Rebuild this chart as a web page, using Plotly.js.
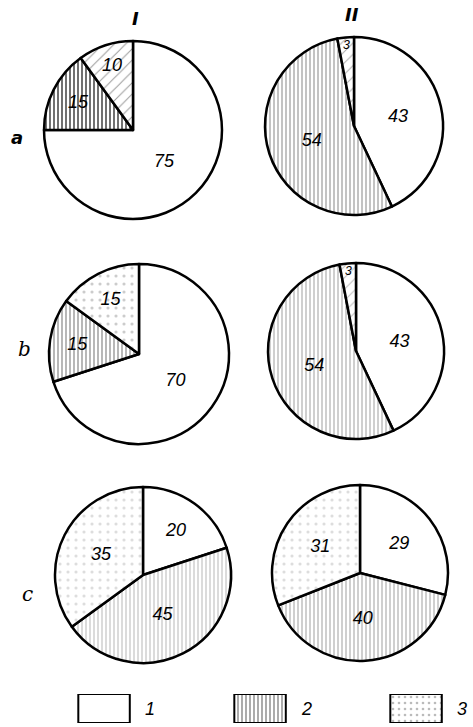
<!DOCTYPE html>
<html>
<head>
<meta charset="utf-8">
<script src="https://cdn.plot.ly/plotly-3.0.1.min.js"></script>
<style>html,body{margin:0;padding:0;background:#fff;}#chart{width:473px;height:727px;}</style>
</head>
<body>
<div id="chart"></div>
<script>
// ---- data ----
const categories = ['1', '2', '3'];
const colLabels = ['I', 'II'];
const rowLabels = ['a', 'b', 'c'];
const valuesA_I = [75, 15, 10];
const valuesA_II = [43, 54, 3];
const valuesB_I = [70, 15, 15];
const valuesB_II = [43, 54, 3];
const valuesC_I = [20, 45, 35];
const valuesC_II = [29, 40, 31];
const legendValues = [1, 1, 1];

// ---- layout helpers (pixel -> paper) ----
const W = 473, H = 727;
function dom(cx, cy, r) {
  return { x: [(cx - r) / W, (cx + r) / W], y: [1 - (cy + r) / H, 1 - (cy - r) / H] };
}
const patShapes = ['', '|', '/'];
function pie(values, d, p2color, p3color, p3shape) {
  return {
    type: 'pie',
    labels: categories,
    values: values,
    text: values.map(String),
    textinfo: 'text',
    textposition: 'inside',
    insidetextorientation: 'horizontal',
    textfont: { family: 'Liberation Sans, Arial, sans-serif', size: 18, style: 'italic', color: '#000' },
    sort: false,
    direction: 'clockwise',
    rotation: 0,
    domain: d,
    showlegend: false,
    hoverinfo: 'none',
    marker: {
      colors: ['#ffffff', '#ffffff', '#ffffff'],
      line: { color: '#000', width: 2.5 },
      pattern: {
        shape: ['', '|', p3shape || '/'],
        fgcolor: ['#000', p2color, p3color],
        bgcolor: ['#fff', '#fff', '#fff'],
        size: [6, 4, 8],
        solidity: [0.1, 0.35, 0.12]
      }
    }
  };
}

const traces = [
  pie(valuesA_I, dom(133, 130, 89), '#333', '#999'),
  pie(valuesA_II, dom(354, 126, 89), '#aaa', '#aaa'),
  pie(valuesB_I, dom(139, 354, 90), '#999', '#ccc', '.'),
  pie(valuesB_II, dom(356, 351, 88), '#bbb', '#bbb'),
  pie(valuesC_I, dom(143, 575, 88), '#ccc', '#ddd', '.'),
  pie(valuesC_II, dom(360, 573, 88), '#bbb', '#ddd', '.'),
  {
    type: 'bar',
    x: categories,
    y: legendValues,
    width: 0.33,
    xaxis: 'x',
    yaxis: 'y',
    showlegend: false,
    hoverinfo: 'none',
    marker: {
      color: '#fff',
      line: { color: '#000', width: 2 },
      pattern: {
        shape: ['', '|', '.'],
        fgcolor: ['#000', '#888', '#bbb'],
        bgcolor: '#fff',
        size: [6, 4, 6],
        solidity: [0.1, 0.35, 0.15]
      }
    }
  }
];

const hdrFont = { family: 'DejaVu Sans', size: 18, color: '#000', weight: 'bold', style: 'italic' };
const rowFont = { family: 'DejaVu Serif, serif', size: 20, color: '#000', style: 'italic' };
function ann(text, px, py, font) {
  return { text: text, x: px / W, y: 1 - py / H, xref: 'paper', yref: 'paper',
           xanchor: 'center', yanchor: 'middle', showarrow: false, font: font };
}
const annotations = [
  ann(colLabels[0], 135, 18, hdrFont),
  ann(colLabels[1], 352, 15, hdrFont),
  ann(rowLabels[0], 17, 137, { family: 'DejaVu Sans', size: 18, color: '#000', weight: 'bold', style: 'italic' }),
  ann(rowLabels[1], 24, 349, rowFont),
  ann(rowLabels[2], 27, 594, rowFont)
];
categories.forEach((c, i) => {
  annotations.push({
    text: c, x: i + 0.25, y: 0.5, xref: 'x', yref: 'y',
    showarrow: false, xanchor: 'left', yanchor: 'middle',
    font: { family: 'Liberation Sans, Arial, sans-serif', size: 18, color: '#000', style: 'italic' }
  });
});

const layout = {
  width: W, height: H,
  margin: { l: 0, r: 0, t: 0, b: 0 },
  paper_bgcolor: '#fff', plot_bgcolor: 'rgba(0,0,0,0)',
  showlegend: false,
  xaxis: { domain: [0, 1], range: [-0.667, 2.365], visible: false, fixedrange: true, type: 'category' },
  yaxis: { domain: [1 - 723 / H, 1 - 694 / H], range: [0, 1], visible: false, fixedrange: true },
  bargap: 0,
  annotations: annotations
};

Plotly.newPlot('chart', traces, layout, { staticPlot: true, displayModeBar: false });
</script>
</body>
</html>
